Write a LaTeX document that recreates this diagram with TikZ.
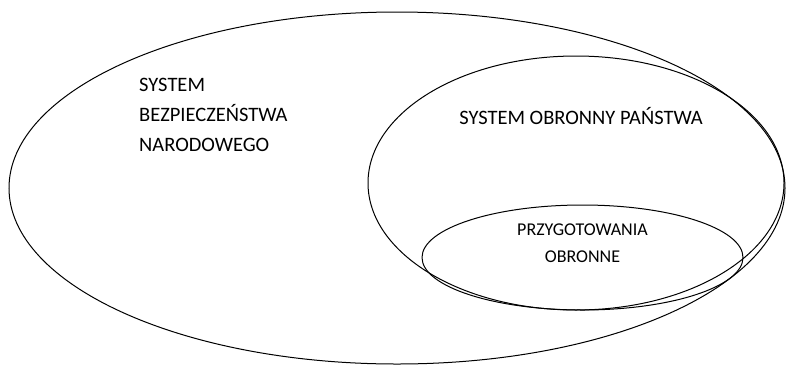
\documentclass[tikz,border=0pt]{standalone}
\usepackage{fontspec}
\setmainfont{Carlito}
\begin{document}
\begin{tikzpicture}[x=1pt,y=-1pt,
  setline/.style={draw=black,line width=1pt},
  lbl/.style={inner sep=0pt,font=\fontsize{20.5}{30}\selectfont},
  lblsmall/.style={inner sep=0pt,align=center,font=\fontsize{18}{27}\selectfont}]
\useasboundingbox (0,0) rectangle (786,365);
\draw[setline] (397,188) ellipse [x radius=388, y radius=176];
\draw[setline] (576,183) ellipse [x radius=208, y radius=127];
\draw[setline] (582.5,257.5) ellipse [x radius=160.5, y radius=52.5];
\node[lbl,align=left,anchor=north west] (sbn) at (139,78) {SYSTEM\\BEZPIECZEŃSTWA\\NARODOWEGO};
\node[lbl] (sop) at (581,116) {SYSTEM OBRONNY PAŃSTWA};
\node[lblsmall] (po) at (582.5,243) {PRZYGOTOWANIA\\OBRONNE};
\end{tikzpicture}
\end{document}
